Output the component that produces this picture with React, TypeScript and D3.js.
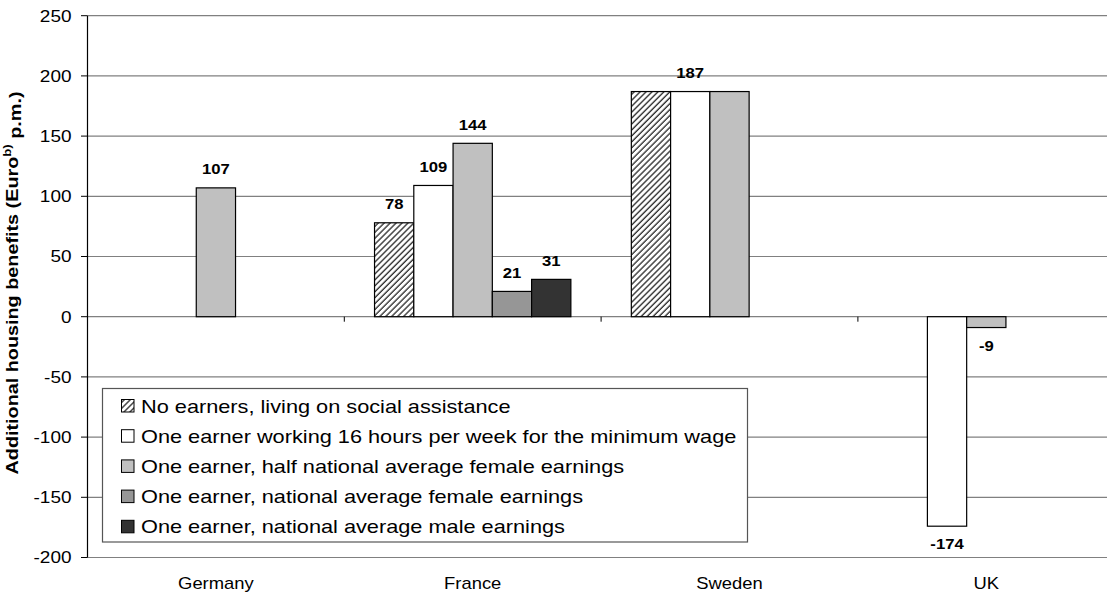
import React from "react";
import * as d3 from "d3";

const categories = ["Germany", "France", "Sweden", "UK"];
const seriesNames = [
  "No earners, living on social assistance",
  "One earner working 16 hours per week for the minimum wage",
  "One earner, half national average female earnings",
  "One earner, national average female earnings",
  "One earner, national average male earnings",
];
// values[series][category]; null = no bar
const noEarners = [null, 78, 187, null];
const minWage16h = [null, 109, 187, -174];
const halfFemale = [107, 144, 187, -9];
const avgFemale = [null, 21, null, null];
const avgMale = [null, 31, null, null];
const seriesValues = [noEarners, minWage16h, halfFemale, avgFemale, avgMale];
// which values carry a data label
const labelShown = [
  [false, true, false, false],
  [false, true, true, true],
  [true, true, false, true],
  [false, true, false, false],
  [false, true, false, false],
];
const yTicks = [-200, -150, -100, -50, 0, 50, 100, 150, 200, 250];

const fills = ["url(#hatch)", "#FFFFFF", "#C0C0C0", "#969696", "#333333"];
const FONT = "'Liberation Sans', Arial, Helvetica, sans-serif";
const SX = 1.15; // glyphs of the source are wider than Arial's

function T(props: {
  x: number;
  y: number;
  size: number;
  anchor?: string;
  bold?: boolean;
  sx?: number;
  children: React.ReactNode;
}) {
  const sx = props.sx ?? SX;
  return (
    <text
      transform={`translate(${props.x},${props.y}) scale(${sx},1)`}
      dy="0.36em"
      textAnchor={props.anchor ?? "start"}
      fontSize={props.size}
      fontWeight={props.bold ? "bold" : "normal"}
      fill="#000"
    >
      {props.children}
    </text>
  );
}

export default function App() {
  const W = 1107;
  const H = 598;
  const left = 87.5;
  const catW = 256.8;
  const top = 15.7;
  const bottom = 557.5;

  const x = d3
    .scaleBand<string>()
    .domain(categories)
    .range([left, left + catW * categories.length])
    .padding(0);
  const inner = d3
    .scaleBand<number>()
    .domain(d3.range(seriesNames.length))
    .range([0, catW])
    .paddingOuter(0.77)
    .paddingInner(0);
  const y = d3.scaleLinear().domain([-200, 250]).range([bottom, top]);
  const bw = inner.bandwidth();

  return (
    <svg
      width={W}
      height={H}
      style={{ position: "absolute", left: 0, top: 0, background: "#fff" }}
      fontFamily={FONT}
    >
      <defs>
        <pattern
          id="hatch"
          patternUnits="userSpaceOnUse"
          width={4.2}
          height={4.2}
          patternTransform="rotate(45)"
        >
          <rect width={4.2} height={4.2} fill="#fff" />
          <line x1={1} y1={0} x2={1} y2={4.2} stroke="#333" strokeWidth={1.4} />
        </pattern>
      </defs>

      {/* gridlines */}
      {yTicks.map((t) => (
        <line
          key={"g" + t}
          x1={left}
          x2={W}
          y1={y(t)}
          y2={y(t)}
          stroke="#808080"
          strokeWidth={1.2}
        />
      ))}

      {/* y axis */}
      <line x1={left} x2={left} y1={top} y2={bottom} stroke="#000" strokeWidth={1.2} />
      {yTicks.map((t) => (
        <g key={"t" + t}>
          <line x1={left - 6.5} x2={left} y1={y(t)} y2={y(t)} stroke="#000" strokeWidth={1} />
          <T x={71.5} y={y(t)} size={16.5} anchor="end">
            {t}
          </T>
        </g>
      ))}

      {/* x ticks at zero line */}
      {categories.slice(1).map((c) => (
        <line
          key={"xt" + c}
          x1={x(c)!}
          x2={x(c)!}
          y1={y(0)}
          y2={y(0) + 5}
          stroke="#000"
          strokeWidth={1}
        />
      ))}

      {/* bars */}
      {seriesValues.map((vals, si) =>
        vals.map((v, ci) => {
          if (v === null) return null;
          const bx = x(categories[ci])! + inner(si)!;
          const y0 = y(Math.max(0, v));
          const h = Math.abs(y(v) - y(0));
          return (
            <rect
              key={`b${si}-${ci}`}
              x={bx}
              y={y0}
              width={bw}
              height={h}
              fill={fills[si]}
              stroke="#000"
              strokeWidth={1.2}
            />
          );
        })
      )}

      {/* data labels */}
      {seriesValues.map((vals, si) =>
        vals.map((v, ci) => {
          if (v === null || !labelShown[si][ci]) return null;
          const cx = x(categories[ci])! + inner(si)! + bw / 2;
          const ly = v >= 0 ? y(v) - 19 : y(v) + 18;
          return (
            <T key={`l${si}-${ci}`} x={cx} y={ly} size={14.5} bold anchor="middle">
              {v}
            </T>
          );
        })
      )}

      {/* category labels */}
      {categories.map((c) => (
        <T key={"c" + c} x={x(c)! + catW / 2} y={583} size={16} anchor="middle">
          {c}
        </T>
      ))}

      {/* y axis title */}
      <text
        transform="translate(12,283) rotate(-90) scale(1.2,1)"
        textAnchor="middle"
        dy="0.36em"
        fontSize={16.5}
        fontWeight="bold"
        fill="#000"
      >
        Additional housing benefits (Euro
        <tspan fontSize={11} dy="-0.6em">
          b)
        </tspan>
        <tspan dy="0.6em"> p.m.)</tspan>
      </text>

      {/* legend */}
      <g>
        <rect
          x={102.5}
          y={388.5}
          width={645}
          height={153.5}
          fill="#fff"
          stroke="#555"
          strokeWidth={1.2}
        />
        {seriesNames.map((n, i) => {
          const ry = 406 + i * 30.2;
          return (
            <g key={"lg" + i}>
              <rect
                x={121.5}
                y={ry - 6.5}
                width={12.5}
                height={12.5}
                fill={fills[i]}
                stroke="#000"
                strokeWidth={1}
              />
              <T x={141} y={ry} size={18.5} sx={1.175}>
                {n}
              </T>
            </g>
          );
        })}
      </g>
    </svg>
  );
}
